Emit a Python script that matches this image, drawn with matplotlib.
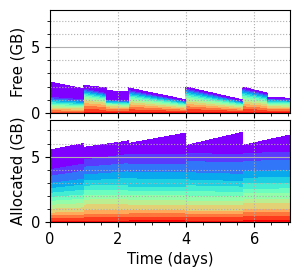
import numpy as np
import matplotlib
matplotlib.use("Agg")
import matplotlib.pyplot as plt
from matplotlib.ticker import MultipleLocator

# ---- data ----
# Free memory per layer (bottom=red ... top=purple), rows = time points
free_t = [0, 0.98, 0.98, 1.67, 1.67, 2.30, 2.30, 3.99, 3.99, 5.65, 5.65, 6.38, 6.38, 7.05]
free_gb = [
    [0.06, 0.08, 0.10, 0.10, 0.12, 0.10, 0.10, 0.10, 0.10, 0.10, 0.10, 0.10, 0.10, 1.09],
    [0.05, 0.07, 0.08, 0.08, 0.10, 0.08, 0.08, 0.08, 0.09, 0.09, 0.09, 0.09, 0.10, 0.76],
    [0.15, 0.20, 0.25, 0.20, 0.20, 0.15, 0.13, 0.12, 0.10, 0.10, 0.10, 0.10, 0.10, 0.20],
    [0.12, 0.16, 0.20, 0.16, 0.16, 0.12, 0.10, 0.10, 0.09, 0.09, 0.09, 0.08, 0.08, 0.35],
    [0.10, 0.12, 0.14, 0.10, 0.10, 0.08, 0.07, 0.06, 0.06, 0.06, 0.06, 0.05, 0.05, 0.64],
    [0.09, 0.11, 0.13, 0.09, 0.09, 0.08, 0.07, 0.06, 0.06, 0.05, 0.05, 0.05, 0.05, 0.62],
    [0.14, 0.18, 0.20, 0.18, 0.18, 0.15, 0.13, 0.12, 0.11, 0.10, 0.10, 0.10, 0.09, 0.12],
    [0.08, 0.10, 0.10, 0.09, 0.09, 0.08, 0.07, 0.07, 0.06, 0.06, 0.05, 0.05, 0.04, 0.06],
    [0.15, 0.20, 0.20, 0.19, 0.19, 0.16, 0.14, 0.13, 0.12, 0.11, 0.11, 0.10, 0.10, 0.07],
    [0.08, 0.10, 0.10, 0.09, 0.09, 0.08, 0.07, 0.07, 0.06, 0.06, 0.05, 0.05, 0.04, 0.06],
    [0.15, 0.20, 0.20, 0.19, 0.19, 0.16, 0.14, 0.13, 0.12, 0.11, 0.11, 0.10, 0.10, 0.07],
    [0.12, 0.15, 0.15, 0.14, 0.14, 0.12, 0.11, 0.10, 0.10, 0.09, 0.08, 0.08, 0.06, 0.06],
    [0.10, 0.12, 0.12, 0.11, 0.11, 0.10, 0.09, 0.08, 0.07, 0.07, 0.06, 0.06, 0.05, 0.06],
    [0.09, 0.11, 0.11, 0.10, 0.10, 0.09, 0.09, 0.08, 0.07, 0.06, 0.06, 0.05, 0.05, 0.06],
]

# Allocated memory per layer, rows = time points
alloc_t = [0, 0.98, 0.98, 2.30, 2.30, 3.99, 3.99, 5.65, 5.65, 7.05]
alloc_gb = [
    [0.12, 0.20, 0.22, 0.22, 0.30, 0.30, 0.30, 0.30, 0.32, 0.35, 0.40, 0.55, 0.50, 1.42],
    [0.13, 0.22, 0.24, 0.24, 0.33, 0.33, 0.33, 0.33, 0.36, 0.40, 0.45, 0.60, 0.55, 1.49],
    [0.15, 0.25, 0.28, 0.30, 0.40, 0.38, 0.36, 0.34, 0.36, 0.40, 0.45, 0.60, 0.55, 0.88],
    [0.15, 0.25, 0.28, 0.30, 0.42, 0.38, 0.36, 0.36, 0.40, 0.50, 0.52, 0.62, 0.70, 0.96],
    [0.18, 0.26, 0.26, 0.25, 0.43, 0.34, 0.38, 0.32, 0.32, 0.64, 0.52, 0.56, 0.77, 0.77],
    [0.18, 0.26, 0.26, 0.25, 0.43, 0.34, 0.38, 0.32, 0.30, 0.58, 0.60, 0.57, 0.77, 1.56],
    [0.15, 0.25, 0.25, 0.25, 0.45, 0.30, 0.40, 0.35, 0.45, 0.45, 0.55, 0.85, 0.60, 0.55],
    [0.15, 0.25, 0.25, 0.25, 0.45, 0.30, 0.40, 0.30, 0.40, 0.42, 0.55, 0.88, 0.65, 1.60],
    [0.18, 0.30, 0.30, 0.28, 0.45, 0.32, 0.40, 0.35, 0.42, 0.42, 0.50, 0.78, 0.60, 0.55],
    [0.18, 0.30, 0.30, 0.28, 0.45, 0.32, 0.42, 0.36, 0.44, 0.44, 0.52, 0.80, 0.62, 1.22],
]

x_ticks = [0, 2, 4, 6]
y_ticks = [0, 5]

# ---- plot ----
fig = plt.figure(figsize=(3.01, 2.79), dpi=100)
ax1 = fig.add_axes([0.166, 0.595, 0.797, 0.369])
ax2 = fig.add_axes([0.166, 0.204, 0.797, 0.366], sharex=ax1)

n_layers = len(free_gb[0])
colors = plt.cm.rainbow(np.linspace(1, 0, n_layers))

for ax, tt, vals in ((ax1, free_t, free_gb), (ax2, alloc_t, alloc_gb)):
    polys = ax.stackplot(tt, np.array(vals).T, colors=colors, linewidth=0)
    for p in polys:
        p.set_antialiased(False)

for ax, lab in ((ax1, "Free (GB)"), (ax2, "Allocated (GB)")):
    ax.set_ylim(0, 7.8)
    ax.set_xlim(0, 7.05)
    ax.set_yticks(y_ticks)
    ax.yaxis.set_minor_locator(MultipleLocator(1))
    ax.xaxis.set_minor_locator(MultipleLocator(0.5))
    ax.set_xticks(x_ticks)
    ax.set_ylabel(lab, fontsize=10.8)
    ax.grid(which="major", axis="y", color="#b0b0b0", lw=0.8, ls="-")
    ax.grid(which="minor", axis="y", color="#b0b0b0", lw=0.8, ls=":")
    ax.grid(which="major", axis="x", color="#b0b0b0", lw=0.8, ls=":")
    ax.tick_params(labelsize=10.5)

ax1.tick_params(axis="x", labelbottom=False)
ax2.set_xlabel("Time (days)", fontsize=10.5)

fig.savefig("out.png", dpi=100)
